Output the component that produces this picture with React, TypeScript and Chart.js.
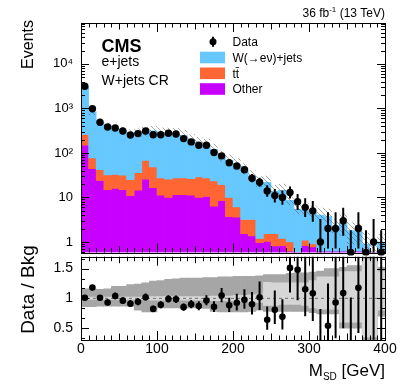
import { useEffect, useRef } from 'react';
import { Chart, registerables } from 'chart.js';

Chart.register(...registerables);

const FONT = "'Liberation Sans', Arial, Helvetica, sans-serif";

// ---- data ----
const binCenters = [5, 15, 25, 35, 45, 55, 65, 75, 85, 95, 105, 115, 125, 135, 145, 155, 165, 175, 185, 195, 205, 215, 225, 235, 245, 255, 265, 275, 285, 295, 305, 315, 325, 335, 345, 355, 365, 375, 385, 395];
const dataCounts = [3160, 980, 490, 383, 364, 310, 253, 272, 310, 257, 257, 276, 267, 210, 177, 149, 149, 102, 86, 60, 51, 42, 27, 22, 14, 11, 10, 13, 8, 6, 5, 1, 2, 2, 3, 0, 2, 0, 1, 0];
const otherBkg = [149, 44.5, 24, 15, 16, 15, 11, 14.5, 25.7, 16.5, 11.2, 10, 11.6, 11.6, 11.2, 10, 10.5, 6.4, 8.5, 3.7, 3.6, 1.54, 1.36, 0.96, 1.03, 0.81, 0.83, 0.62, 0.6, 0.83, 0.77, 0.62, 0.62, 0.62, 0.62, 0.62, 0.62, 0.62, 0.3, 0.62];
const ttbarBkg = [111, 32.5, 18, 17, 17, 16.6, 14, 21.5, 42.3, 32, 16.3, 15.7, 15.9, 15.9, 15.3, 18.8, 17, 17.1, 10.9, 6.3, 2.5, 1.66, 1.84, 0.24, 0.51, 0.73, 0.37, 0.38, 0, 0.27, 0.13, 0, 0, 0, 0, 0, 0, 0, 0, 0];
const wjetsBkg = [2870, 753, 443, 380, 317, 291, 253, 253, 236, 264, 261, 253, 244, 219, 170, 142, 127, 95.5, 62.6, 58, 48.9, 39.8, 26.8, 20.4, 20.3, 12.1, 13.3, 7.6, 4.8, 4.1, 3.7, 3.38, 3.08, 1.53, 2.13, 1.18, 1.08, 0.28, 0.26, 0.38];
// relative uncertainty bands (ratio panel, dark = total, light = stat)
const systUp = [1.16, 1.16, 1.15, 1.16, 1.2, 1.2, 1.23, 1.24, 1.26, 1.29, 1.3, 1.32, 1.33, 1.34, 1.34, 1.34, 1.35, 1.35, 1.36, 1.36, 1.37, 1.37, 1.37, 1.38, 1.4, 1.4, 1.4, 1.42, 1.43, 1.43, 1.44, 1.46, 1.5, 1.5, 1.52, 1.55, 1.55, 1.8, 1.8, 1.52];
const systDown = [0.86, 0.86, 0.87, 0.87, 0.87, 0.87, 0.87, 0.8, 0.77, 0.77, 0.84, 0.84, 0.84, 0.84, 0.84, 0.84, 0.83, 0.78, 0.77, 0.77, 0.77, 0.77, 0.78, 0.8, 0.78, 0.78, 0.78, 0.78, 0.78, 0.78, 0.76, 0.74, 0.74, 0.74, 0.5, 0.5, 0.5, 0.2, 0.2, 0.7];
const statUp = [1.02, 1.02, 1.02, 1.02, 1.02, 1.02, 1.02, 1.02, 1.02, 1.03, 1.03, 1.03, 1.03, 1.03, 1.03, 1.03, 1.03, 1.04, 1.04, 1.04, 1.05, 1.05, 1.06, 1.07, 1.27, 1.26, 1.26, 1.26, 1.26, 1.26, 1.3, 1.36, 1.36, 1.36, 1.45, 1.45, 1.45, 1.65, 1.65, 1.45];
const statDown = [0.98, 0.98, 0.98, 0.98, 0.98, 0.98, 0.98, 0.98, 0.98, 0.97, 0.97, 0.97, 0.97, 0.97, 0.97, 0.97, 0.97, 0.96, 0.96, 0.96, 0.95, 0.95, 0.94, 0.93, 0.88, 0.88, 0.9, 0.9, 0.9, 0.88, 0.84, 0.82, 0.82, 0.82, 0.6, 0.6, 0.6, 0.35, 0.35, 0.8];

const mainYTicks = [1, 10, 100, 1000, 10000];
const mainYTickLabels = ['1', '10', '10²', '10³', '10⁴'];
const ratioYTicks = [0.5, 1, 1.5];
const ratioYTickLabels = ['0.5', '1', '1.5'];
const xTicks = [0, 100, 200, 300, 400];
const xTickLabels = ['0', '100', '200', '300', '400'];
const legendLabels = ['Data', 'W(→eν)+jets', 'tt̄', 'Other'];

const COLORS = { w: '#66c8ff', tt: '#ff6633', other: '#c800ff', syst: '#a6a6a6', stat: '#d6d6d6' };
const Y_MIN = 0.58;
const Y_MAX = 8.3e4;

function poissonInterval(n: number): [number, number] {
  const lo = n === 0 ? 0 : n * Math.pow(1 - 1 / (9 * n) - 1 / (3 * Math.sqrt(n)), 3);
  const m = n + 1;
  const hi = m * Math.pow(1 - 1 / (9 * m) + 1 / (3 * Math.sqrt(m)), 3);
  return [lo, hi];
}

function makeHatch(): CanvasPattern | string {
  const s = 5;
  const c = document.createElement('canvas');
  c.width = s; c.height = s;
  const g = c.getContext('2d');
  if (!g) return 'rgba(80,80,80,0.3)';
  g.strokeStyle = 'rgba(85,85,85,0.75)';
  g.lineWidth = 0.7;
  g.beginPath();
  g.moveTo(0, 0); g.lineTo(s, s);
  g.moveTo(-1, s - 1); g.lineTo(1, s + 1);
  g.moveTo(s - 1, -1); g.lineTo(s + 1, 1);
  g.stroke();
  return g.createPattern(c, 'repeat') || 'rgba(80,80,80,0.3)';
}

function drawXTicks(ctx: CanvasRenderingContext2D, a: any, xs: any) {
  for (let v = 0; v <= 400; v += 10) {
    const px = Math.round(xs.getPixelForValue(v)) + 0.5;
    const len = v % 100 === 0 ? 9 : v % 50 === 0 ? 6.5 : 4.5;
    ctx.moveTo(px, a.bottom); ctx.lineTo(px, a.bottom - len);
    ctx.moveTo(px, a.top); ctx.lineTo(px, a.top + len);
  }
}

const mainDecor = {
  id: 'mainDecor',
  afterDraw(chart: any) {
    const { ctx, chartArea: a } = chart;
    const xs = chart.scales.x, ys = chart.scales.y;
    ctx.save();
    ctx.strokeStyle = '#000'; ctx.lineWidth = 1;
    ctx.beginPath();
    drawXTicks(ctx, a, xs);
    for (let e = -1; e <= 4; e++) {
      for (let m = 1; m <= 9; m++) {
        const v = m * Math.pow(10, e);
        if (v < ys.min || v > ys.max) continue;
        const py = Math.round(ys.getPixelForValue(v)) + 0.5;
        const len = m === 1 ? 8 : 4;
        ctx.moveTo(a.left, py); ctx.lineTo(a.left + len, py);
        ctx.moveTo(a.right, py); ctx.lineTo(a.right - len, py);
      }
    }
    ctx.stroke();
    ctx.strokeRect(Math.round(a.left) + 0.5, Math.round(a.top) + 0.5, Math.round(a.right - a.left), Math.round(a.bottom - a.top));

    ctx.fillStyle = '#000';
    ctx.textBaseline = 'alphabetic';
    ctx.textAlign = 'left';
    ctx.font = `bold 18px ${FONT}`;
    ctx.fillText('CMS', 101.5, 52);
    ctx.font = `14px ${FONT}`;
    ctx.fillText('e+jets', 101.5, 66);
    ctx.fillText('W+jets CR', 101.5, 85);

    // legend
    const rows = [41.7, 57.5, 73.3, 89];
    ctx.lineWidth = 2;
    ctx.beginPath(); ctx.moveTo(213, rows[0] - 5); ctx.lineTo(213, rows[0] + 5); ctx.stroke();
    ctx.beginPath(); ctx.arc(213, rows[0], 3.5, 0, Math.PI * 2); ctx.fill();
    const boxCols = [COLORS.w, COLORS.tt, COLORS.other];
    for (let i = 0; i < 3; i++) {
      ctx.fillStyle = boxCols[i];
      ctx.fillRect(200, rows[i + 1] - 5.8, 25, 11.6);
    }
    ctx.fillStyle = '#000';
    ctx.font = `12px ${FONT}`;
    for (let i = 0; i < 4; i++) ctx.fillText(legendLabels[i], 232.5, rows[i] + 4.2);

    // lumi
    ctx.font = `12px ${FONT}`;
    const w1 = ctx.measureText('36 fb').width;
    const w3 = ctx.measureText(' (13 TeV)').width;
    ctx.font = `8px ${FONT}`;
    const w2 = ctx.measureText('-1').width;
    const x0 = 385 - (w1 + w2 + w3);
    ctx.font = `12px ${FONT}`;
    ctx.fillText('36 fb', x0, 16.5);
    ctx.font = `8px ${FONT}`;
    ctx.fillText('-1', x0 + w1, 12);
    ctx.font = `12px ${FONT}`;
    ctx.fillText(' (13 TeV)', x0 + w1 + w2, 16.5);

    // y title
    ctx.save();
    ctx.translate(29, 20);
    ctx.rotate(-Math.PI / 2);
    ctx.textAlign = 'right';
    ctx.textBaseline = 'middle';
    ctx.font = `16px ${FONT}`;
    ctx.fillText('Events', 0, 0);
    ctx.restore();
    ctx.restore();
  },
};

const ratioDecor = {
  id: 'ratioDecor',
  afterDraw(chart: any) {
    const { ctx, chartArea: a } = chart;
    const xs = chart.scales.x, ys = chart.scales.y;
    ctx.save();
    ctx.strokeStyle = '#000'; ctx.lineWidth = 1;
    ctx.beginPath();
    drawXTicks(ctx, a, xs);
    for (let k = 2; k <= 10; k++) {
      const v = k / 6;
      if (v < ys.min || v > ys.max) continue;
      const py = Math.round(ys.getPixelForValue(v)) + 0.5;
      const len = k % 3 === 0 ? 8 : 4;
      ctx.moveTo(a.left, py); ctx.lineTo(a.left + len, py);
      ctx.moveTo(a.right, py); ctx.lineTo(a.right - len, py);
    }
    ctx.stroke();
    ctx.strokeRect(Math.round(a.left) + 0.5, Math.round(a.top) + 0.5, Math.round(a.right - a.left), Math.round(a.bottom - a.top));

    ctx.fillStyle = '#000';
    // x title
    ctx.textBaseline = 'alphabetic';
    ctx.textAlign = 'left';
    ctx.font = `17px ${FONT}`;
    const wM = ctx.measureText('M').width;
    const wR = ctx.measureText(' [GeV]').width;
    ctx.font = `10px ${FONT}`;
    const wS = ctx.measureText('SD').width;
    const x0 = 385 - (wM + wS + wR);
    ctx.font = `17px ${FONT}`;
    ctx.fillText('M', x0, 375.5);
    ctx.font = `10px ${FONT}`;
    ctx.fillText('SD', x0 + wM, 379.5);
    ctx.font = `17px ${FONT}`;
    ctx.fillText(' [GeV]', x0 + wM + wS, 375.5);

    // y title
    ctx.save();
    ctx.translate(29, 289.5);
    ctx.rotate(-Math.PI / 2);
    ctx.textAlign = 'center';
    ctx.textBaseline = 'middle';
    ctx.font = `19px ${FONT}`;
    ctx.fillText('Data / Bkg', 0, 0);
    ctx.restore();
    ctx.restore();
  },
};

export default function App() {
  const mainRef = useRef<HTMLCanvasElement>(null);
  const ratioRef = useRef<HTMLCanvasElement>(null);

  useEffect(() => {
    if (!mainRef.current || !ratioRef.current) return;
    const total = binCenters.map((_, i) => otherBkg[i] + ttbarBkg[i] + wjetsBkg[i]);
    const intervals = dataCounts.map((n) => poissonInterval(n));
    const hatch = makeHatch();

    const barCommon = { categoryPercentage: 1, barPercentage: 1, stack: 's', borderWidth: 0 };
    const errCommon = { barThickness: 2, inflateAmount: 0, stack: 's', borderWidth: 0, backgroundColor: '#000' };

    const main = new Chart(mainRef.current, {
      type: 'bar',
      data: {
        datasets: [
          {
            ...barCommon, label: 'Other', order: 6, backgroundColor: COLORS.other,
            data: binCenters.map((x, i) => ({ x, y: otherBkg[i] })),
          },
          {
            ...barCommon, label: 'ttbar', order: 5, backgroundColor: COLORS.tt,
            data: binCenters.map((x, i) => ({ x, y: ttbarBkg[i] > 0 ? [otherBkg[i], otherBkg[i] + ttbarBkg[i]] : null })),
          },
          {
            ...barCommon, label: 'W', order: 4, backgroundColor: COLORS.w,
            data: binCenters.map((x, i) => ({ x, y: [otherBkg[i] + ttbarBkg[i], total[i]] })),
          },
          {
            ...barCommon, label: 'unc', order: 3, backgroundColor: hatch, inflateAmount: 0,
            data: binCenters.map((x, i) => ({ x, y: [total[i] * systDown[i], total[i] * systUp[i]] })),
          },
          {
            ...errCommon, label: 'err', order: 2,
            data: binCenters.map((x, i) => ({ x, y: [Math.max(intervals[i][0], 0.01), intervals[i][1]] })),
          },
          {
            type: 'line', label: 'Data', order: 1, showLine: false,
            pointRadius: 3.7, pointBackgroundColor: '#000', pointBorderColor: '#000', pointBorderWidth: 0,
            clip: { left: 5, right: 5, top: 5, bottom: 3 },
            data: binCenters.map((x, i) => ({ x, y: dataCounts[i] > 0 ? dataCounts[i] : Y_MIN })),
          },
        ] as any,
      },
      options: {
        animation: false,
        responsive: false,
        devicePixelRatio: 1,
        events: [],
        layout: { padding: { left: 0, top: 23, right: 26, bottom: 134.5 } },
        plugins: { legend: { display: false }, tooltip: { enabled: false } },
        scales: {
          x: { type: 'linear', min: 0, max: 400, display: false, stacked: true, offset: false },
          y: {
            type: 'logarithmic', min: Y_MIN, max: Y_MAX, stacked: false,
            afterFit: (s: any) => { s.width = 81; },
            afterBuildTicks: (s: any) => { s.ticks = mainYTicks.map((v) => ({ value: v })); },
            ticks: {
              callback: (_v: any, i: number) => mainYTickLabels[i],
              font: { family: FONT, size: 13 }, color: '#000', padding: 8, autoSkip: false,
            },
            grid: { display: false, drawTicks: false },
            border: { display: false },
          },
        } as any,
      },
      plugins: [mainDecor],
    });

    const ratio = new Chart(ratioRef.current, {
      type: 'bar',
      data: {
        datasets: [
          {
            ...barCommon, label: 'syst', order: 6, backgroundColor: COLORS.syst,
            data: binCenters.map((x, i) => ({ x, y: [systDown[i], systUp[i]] })),
          },
          {
            ...barCommon, label: 'stat', order: 5, backgroundColor: COLORS.stat,
            data: binCenters.map((x, i) => ({ x, y: [statDown[i], statUp[i]] })),
          },
          {
            type: 'line', label: 'one', order: 4, borderColor: '#6e6e6e', borderWidth: 1, borderDash: [3, 3],
            pointRadius: 0, data: [{ x: 0, y: 1 }, { x: 400, y: 1 }],
          },
          {
            ...errCommon, label: 'err', order: 2,
            data: binCenters.map((x, i) => ({ x, y: [intervals[i][0] / total[i], intervals[i][1] / total[i]] })),
          },
          {
            type: 'line', label: 'ratio', order: 1, showLine: false,
            pointRadius: 3.3, pointBackgroundColor: '#000', pointBorderColor: '#000', pointBorderWidth: 0,
            clip: 0,
            data: binCenters.map((x, i) => ({ x, y: dataCounts[i] / total[i] })),
          },
        ] as any,
      },
      options: {
        animation: false,
        responsive: false,
        devicePixelRatio: 1,
        events: [],
        layout: { padding: { left: 0, top: 256.7, right: 26, bottom: 0 } },
        plugins: { legend: { display: false }, tooltip: { enabled: false } },
        scales: {
          x: {
            type: 'linear', min: 0, max: 400, stacked: true, offset: false,
            afterFit: (s: any) => { s.height = 47; },
            afterBuildTicks: (s: any) => { s.ticks = xTicks.map((v) => ({ value: v })); },
            ticks: {
              callback: (_v: any, i: number) => xTickLabels[i],
              font: { family: FONT, size: 14 }, color: '#000', padding: 1, maxRotation: 0, autoSkip: false,
            },
            grid: { display: false, drawTicks: false },
            border: { display: false },
          },
          y: {
            type: 'linear', min: 0.3, max: 1.7, stacked: false,
            afterFit: (s: any) => { s.width = 81; },
            afterBuildTicks: (s: any) => { s.ticks = ratioYTicks.map((v) => ({ value: v })); },
            ticks: {
              callback: (_v: any, i: number) => ratioYTickLabels[i],
              font: { family: FONT, size: 14 }, color: '#000', padding: 8, autoSkip: false,
            },
            grid: { display: false, drawTicks: false },
            border: { display: false },
          },
        } as any,
      },
      plugins: [ratioDecor],
    });

    return () => { main.destroy(); ratio.destroy(); };
  }, []);

  return (
    <div style={{ position: 'fixed', left: 0, top: 0, width: 411, height: 387, background: '#fff' }}>
      <canvas ref={mainRef} width={411} height={387} style={{ position: 'absolute', left: 0, top: 0 }} />
      <canvas ref={ratioRef} width={411} height={387} style={{ position: 'absolute', left: 0, top: 0 }} />
    </div>
  );
}
